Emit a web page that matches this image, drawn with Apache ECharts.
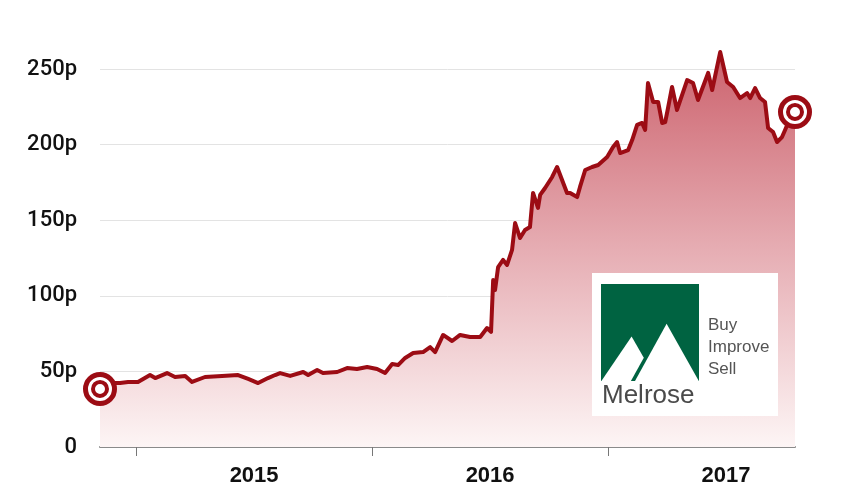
<!DOCTYPE html>
<html><head><meta charset="utf-8">
<script src="https://cdn.jsdelivr.net/npm/echarts@6/dist/echarts.min.js"></script>
<style>html,body{margin:0;padding:0;background:#fff}#c{width:850px;height:500px}</style>
</head><body><div id="c"></div>
<script>
// Dates as fractional years
const dates = [
 2014.847, 2014.898, 2014.932, 2014.966, 2015.008, 2015.059, 2015.081, 2015.131, 2015.165, 2015.208,
 2015.237, 2015.292, 2015.364, 2015.432, 2015.475, 2015.517, 2015.559, 2015.589, 2015.610, 2015.653,
 2015.708, 2015.729, 2015.767, 2015.792, 2015.852, 2015.894, 2015.936, 2015.979, 2016.021, 2016.055,
 2016.085, 2016.110, 2016.140, 2016.174, 2016.216, 2016.246, 2016.267, 2016.301, 2016.339, 2016.373,
 2016.415, 2016.458, 2016.487, 2016.504, 2016.508, 2016.513, 2016.521, 2016.534, 2016.555, 2016.572,
 2016.593, 2016.606, 2016.627, 2016.648, 2016.669, 2016.682, 2016.703, 2016.712, 2016.733, 2016.763,
 2016.784, 2016.805, 2016.826, 2016.839, 2016.869, 2016.881, 2016.903, 2016.932, 2016.958, 2016.996,
 2017.021, 2017.038, 2017.051, 2017.085, 2017.102, 2017.123, 2017.144, 2017.157, 2017.169, 2017.191,
 2017.212, 2017.229, 2017.242, 2017.254, 2017.271, 2017.292, 2017.335, 2017.360, 2017.381, 2017.424,
 2017.441, 2017.475, 2017.504, 2017.530, 2017.559, 2017.589, 2017.602, 2017.623, 2017.644, 2017.665,
 2017.678, 2017.699, 2017.716, 2017.737, 2017.750, 2017.771, 2017.792
];
// Share price in pence
const prices = [
 38.4, 42.3, 42.3, 43.0, 43.0, 47.6, 45.6, 48.9, 46.3, 47.0,
 43.0, 46.3, 47.0, 47.6, 45.0, 42.3, 45.6, 47.6, 48.9, 47.0,
 49.6, 47.6, 50.9, 48.9, 49.6, 52.2, 51.6, 52.9, 51.6, 48.9,
 54.9, 54.2, 58.9, 62.2, 62.8, 66.1, 62.8, 74.1, 70.1, 74.1,
 72.8, 72.8, 78.7, 76.1, 77.4, 110.4, 103.8, 119.0, 123.7, 120.4,
 130.3, 148.1, 138.2, 143.5, 145.5, 168.0, 158.1, 166.7, 171.3, 178.6,
 185.2, 176.6, 168.0, 168.0, 165.3, 172.0, 183.2, 185.2, 186.5, 191.8,
 198.4, 201.7, 194.4, 196.4, 203.0, 213.0, 214.3, 209.7, 240.7, 228.2,
 228.2, 214.3, 214.9, 224.2, 238.1, 222.9, 242.7, 240.7, 229.5, 247.4,
 236.1, 261.2, 241.4, 238.1, 230.8, 234.1, 230.8, 237.4, 230.8, 228.2,
 211.0, 208.3, 201.7, 205.0, 209.7, 217.6, 221.6
];
const yearTicks = [2015, 2016, 2017];
const yearLabels = ['2015', '2016', '2017'];
const yMin = 0, yMax = 250, yStep = 50;

const red = '#9c0c14';
const series = dates.map((d, i) => [d, prices[i]]);
const ends = [series[0], series[series.length - 1]];
const logoFont = '"Liberation Sans", Arial, sans-serif';

const chart = echarts.init(document.getElementById('c'), null, {renderer: 'canvas'});
chart.setOption({
  animation: false,
  backgroundColor: '#fff',
  grid: {left: 100, right: 55, top: 69, bottom: 53},
  xAxis: {
    type: 'value',
    min: dates[0], max: dates[dates.length - 1],
    axisLine: {show: true, lineStyle: {color: '#8a8a8a', width: 2}},
    axisTick: {show: true, customValues: yearTicks, length: 9, lineStyle: {color: '#777', width: 1}},
    axisLabel: {
      customValues: yearTicks.map(y => y + 0.5),
      formatter: v => yearLabels[yearTicks.indexOf(Math.floor(v))],
      fontSize: 22, fontWeight: 'bold', color: '#111', fontFamily: logoFont, margin: 18
    },
    splitLine: {show: false}
  },
  yAxis: {
    type: 'value', min: yMin, max: yMax, interval: yStep,
    axisLine: {show: false}, axisTick: {show: false},
    axisLabel: {formatter: v => v === 0 ? '0' : v + 'p', fontSize: 22, fontWeight: 500, color: '#111', fontFamily: 'Roboto, sans-serif', margin: 23},
    splitLine: {lineStyle: {color: '#e3e3e3', width: 1}}
  },
  series: [
    {
      type: 'line', data: series, symbol: 'none', clip: false, z: 3,
      lineStyle: {color: red, width: 4, join: 'round'},
      areaStyle: {color: new echarts.graphic.LinearGradient(0, 0, 0, 1, [
        {offset: 0, color: '#cc626d'}, {offset: 0.5, color: '#e6adb3'}, {offset: 1, color: '#fdf5f5'}
      ]), opacity: 1}
    },
    {
      type: 'scatter', data: ends, symbol: 'circle', symbolSize: 29, clip: false, z: 5, silent: true,
      itemStyle: {color: '#fff', borderColor: red, borderWidth: 5, opacity: 1}
    },
    {
      type: 'scatter', data: ends, symbol: 'circle', symbolSize: 14, clip: false, z: 6, silent: true,
      itemStyle: {color: '#fff', borderColor: red, borderWidth: 4, opacity: 1}
    }
  ],
  graphic: {
    elements: [
      {type: 'rect', zlevel: 1, z: 100, shape: {x: 592, y: 273, width: 186, height: 143}, style: {fill: '#ffffff', opacity: 1}},
      {type: 'rect', zlevel: 1, z: 101, shape: {x: 601, y: 284, width: 98, height: 97}, style: {fill: '#006341', opacity: 1}},
      {type: 'polygon', zlevel: 1, z: 102, shape: {points: [[601.4, 381], [631.6, 336.4], [643.8, 357.8], [630.9, 381]]}, style: {fill: '#ffffff'}},
      {type: 'polygon', zlevel: 1, z: 102, shape: {points: [[635, 381], [666.6, 323.8], [698.8, 381]]}, style: {fill: '#ffffff'}},
      {type: 'text', zlevel: 1, z: 103, x: 708, y: 325.5, style: {text: 'Buy', fontSize: 17, fill: '#555', fontFamily: logoFont, verticalAlign: 'middle', opacity: 1}},
      {type: 'text', zlevel: 1, z: 103, x: 708, y: 347.5, style: {text: 'Improve', fontSize: 17, fill: '#555', fontFamily: logoFont, verticalAlign: 'middle', opacity: 1}},
      {type: 'text', zlevel: 1, z: 103, x: 708, y: 369.5, style: {text: 'Sell', fontSize: 17, fill: '#555', fontFamily: logoFont, verticalAlign: 'middle', opacity: 1}},
      {type: 'text', zlevel: 1, z: 103, x: 602, y: 396, style: {text: 'Melrose', fontSize: 26, fill: '#4a4a4a', fontFamily: logoFont, verticalAlign: 'middle', opacity: 1}}
    ]
  }
});
</script>
</body></html>
